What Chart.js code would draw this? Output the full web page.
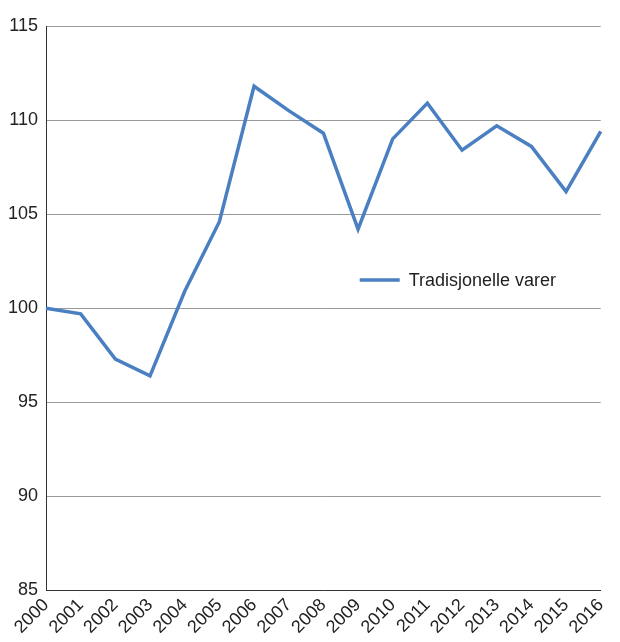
<!DOCTYPE html>
<html>
<head>
<meta charset="utf-8">
<script src="https://cdn.jsdelivr.net/npm/chart.js@4"></script>
<style>
  body { margin: 0; background: #fff; }
  #wrap { width: 620px; height: 642px; }
</style>
</head>
<body>
<div id="wrap"><canvas id="chart"></canvas></div>
<script>
const years = ['2000','2001','2002','2003','2004','2005','2006','2007','2008','2009','2010','2011','2012','2013','2014','2015','2016']
const tradisjonelle = [100, 99.7, 97.3, 96.4, 100.9, 104.6, 111.8, 110.5, 109.3, 104.2, 109.0, 110.9, 108.4, 109.7, 108.6, 106.2, 109.4]
const seriesLabel = 'Tradisjonelle varer'

// legend drawn inside the plot, as in the reference
const innerLegend = {
    id: 'innerLegend',
    afterDraw(chart) {
        const ctx = chart.ctx
        const x = chart.scales.x.getPixelForValue(10) - 33
        const y = chart.scales.y.getPixelForValue(101.5)
        ctx.save()
        ctx.strokeStyle = '#4a7fc1'
        ctx.lineWidth = 3.5
        ctx.beginPath()
        ctx.moveTo(x, y)
        ctx.lineTo(x + 40, y)
        ctx.stroke()
        ctx.fillStyle = '#222'
        ctx.font = '18px "Liberation Sans", Arial, sans-serif'
        ctx.textBaseline = 'middle'
        ctx.fillText(seriesLabel, x + 49, y + 1)
        ctx.restore()
    }
}

new Chart(document.getElementById('chart'), {
    type: 'line',
    data: {
        labels: years,
        datasets: [{
            label: seriesLabel,
            data: tradisjonelle,
            borderColor: '#4a7fc1',
            borderWidth: 3.5,
            pointRadius: 0,
            tension: 0,
            fill: false
        }]
    },
    options: {
        responsive: true,
        maintainAspectRatio: false,
        animation: false,
        layout: { padding: { left: 0, right: 18, top: 26, bottom: 0 } },
        plugins: { legend: { display: false }, tooltip: { enabled: false } },
        scales: {
            x: {
                offset: false,
                grid: { display: false, drawTicks: false },
                border: { display: true, color: '#333', width: 1 },
                ticks: {
                    color: '#222',
                    font: { size: 18, family: '"Liberation Sans", Arial, sans-serif' },
                    maxRotation: 45, minRotation: 45, autoSkip: false, padding: 4
                }
            },
            y: {
                min: 85, max: 115,
                grid: { color: '#999', drawTicks: false },
                border: { display: true, color: '#333', width: 1 },
                ticks: {
                    stepSize: 5,
                    color: '#222',
                    font: { size: 18, family: '"Liberation Sans", Arial, sans-serif' },
                    padding: 8
                }
            }
        }
    },
    plugins: [innerLegend]
})
</script>
</body>
</html>
